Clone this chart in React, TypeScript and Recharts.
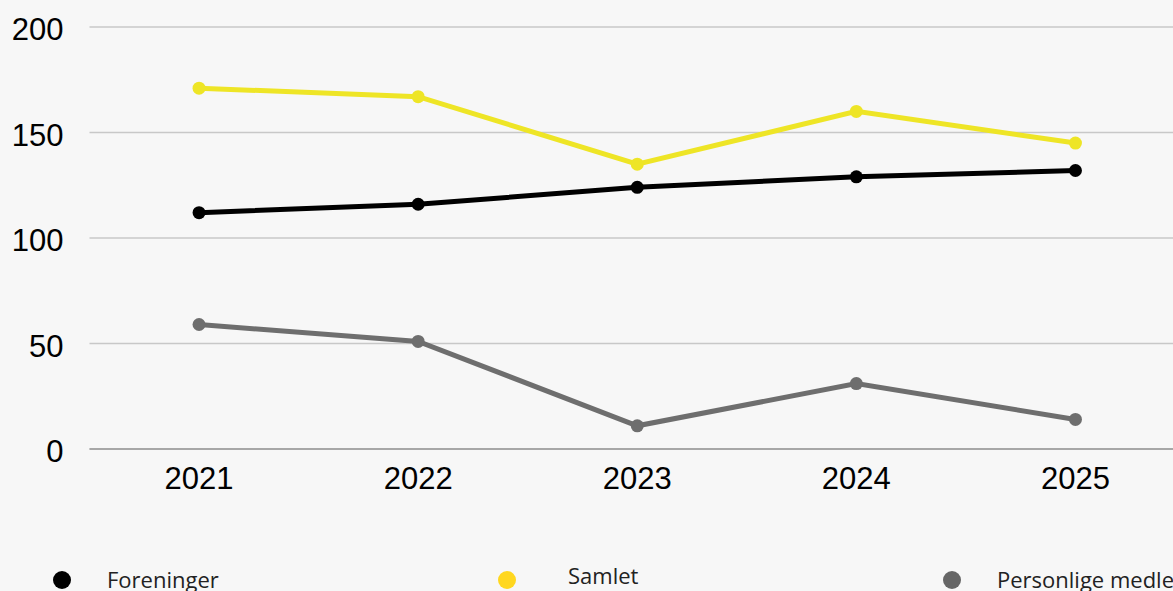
import React from "react";
import { LineChart, Line, XAxis, YAxis, CartesianGrid } from "recharts";

const years = ["2021", "2022", "2023", "2024", "2025"];
const foreninger = [112, 116, 124, 129, 132];
const samlet = [171, 167, 135, 160, 145];
const personlige = [59, 51, 11, 31, 14];
const yTicks = [0, 50, 100, 150, 200];

const series = [
  { key: "foreninger", name: "Foreninger", color: "#000000", legendColor: "#000000" },
  { key: "samlet", name: "Samlet", color: "#EEE526", legendColor: "#FFD71F" },
  { key: "personlige", name: "Personlige medlemmer", color: "#6E6E6E", legendColor: "#666666" },
];

const data = years.map((y, i) => ({
  year: y,
  foreninger: foreninger[i],
  samlet: samlet[i],
  personlige: personlige[i],
}));

const legendTextStyle = [
  { marginLeft: 36, top: -1 },
  { marginLeft: 52, top: -5 },
  { marginLeft: 36, top: -1 },
];

const axisFont = "Liberation Sans, Arial, sans-serif";

export default function App() {
  return (
    <div style={{ position: "relative", width: 1173, height: 591, overflow: "hidden", background: "#f7f7f7" }}>
      <style>{`body{margin:0;background:#f7f7f7;overflow:hidden}`}</style>
      <LineChart width={1200} height={520} data={data} margin={{ top: 27, right: 15, bottom: 11, left: 0 }}>
        <CartesianGrid vertical={false} stroke="#c8c8c8" strokeWidth={1.5} />
        <XAxis
          dataKey="year"
          scale="band"
          height={60}
          tickSize={0}
          tickMargin={18}
          axisLine={{ stroke: "#999999", strokeWidth: 1.5 }}
          tick={{ fill: "#000", fontSize: 31, fontFamily: axisFont }}
        />
        <YAxis
          width={89.5}
          domain={[0, 200]}
          ticks={yTicks}
          axisLine={false}
          tickLine={false}
          tickSize={0}
          tickMargin={26}
          tick={{ fill: "#000", fontSize: 31, fontFamily: axisFont, dy: 2 }}
        />
        {series.map((s) => (
          <Line
            key={s.key}
            dataKey={s.key}
            name={s.name}
            stroke={s.color}
            strokeWidth={5}
            dot={{ r: 6.5, fill: s.color, stroke: s.color, strokeWidth: 0 }}
            activeDot={false}
            isAnimationActive={false}
          />
        ))}
      </LineChart>
      <div style={{ position: "absolute", top: 568, left: 53, display: "flex", fontFamily: "'Open Sans', sans-serif", fontSize: 22, color: "#222" }}>
        {series.map((s, i) => (
          <div key={s.key} style={{ width: 445, display: "flex", alignItems: "center", whiteSpace: "nowrap", height: 24 }}>
            <span style={{ display: "inline-block", flex: "0 0 auto", width: 18, height: 18, borderRadius: 9, background: s.legendColor }} />
            <span style={{ position: "relative", marginLeft: legendTextStyle[i].marginLeft, top: legendTextStyle[i].top }}>{s.name}</span>
          </div>
        ))}
      </div>
    </div>
  );
}
